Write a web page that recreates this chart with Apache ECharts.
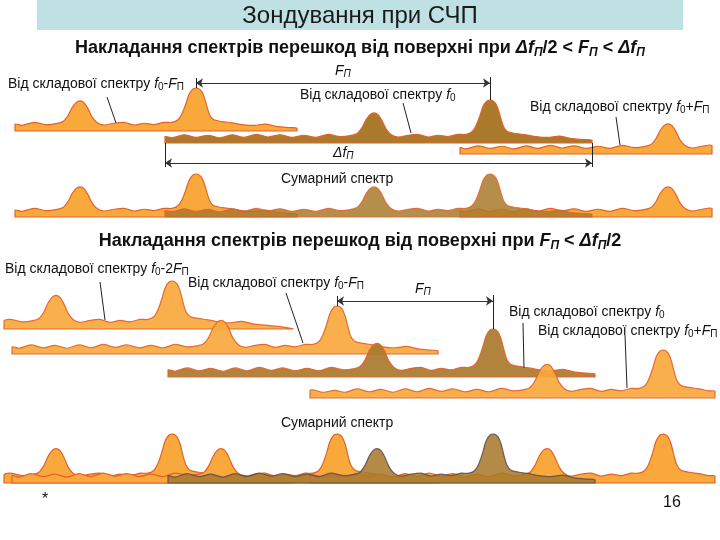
<!DOCTYPE html>
<html><head><meta charset="utf-8">
<script src="https://cdn.jsdelivr.net/npm/echarts@6/dist/echarts.min.js"></script>
<style>html,body{margin:0;padding:0;background:#fff}#c{width:720px;height:540px}</style>
</head><body><div id="c"></div>
<script>
// ---- Spectrum template: frequency offset from main line, relative level ----
const profileFreq  = [-360,-350,-340,-328,-318,-306,-294,-282,-270,-258,-246,-234,-222,-210,-198,-186,-174,-162,-150,-140,-133,-128,-124,-120,-116,-112,-108,-104,-99,-92,-82,-72,-62,-52,-42,-32,-24,-18,-14,-10,-7,-3,1,5,8,11,14,18,26,36,46,58,70,82,94,108,122];
const profileLevel = [0.12,0.17,0.12,0.16,0.12,0.19,0.13,0.18,0.12,0.19,0.13,0.2,0.14,0.19,0.13,0.18,0.13,0.2,0.15,0.17,0.22,0.36,0.54,0.66,0.7,0.66,0.52,0.33,0.2,0.14,0.18,0.2,0.14,0.18,0.15,0.2,0.2,0.26,0.4,0.64,0.85,0.98,1.0,0.94,0.8,0.56,0.36,0.26,0.22,0.19,0.15,0.13,0.16,0.1,0.08,0.05,0];

// ---- Case 1: Δf/2 < F < Δf ----
const topComponents = ['f0-FП', 'f0', 'f0+FП'];
const topPeakFreq   = [196, 490, 784];
const topBandStart  = [-181, -325, -324];
const topBandEnd    = [101, 102, -72];

// ---- Case 2: F < Δf/2 ----
const bottomComponents = ['f0-2FП', 'f0-FП', 'f0', 'f0+FП'];
const bottomPeakFreq   = [172, 337, 493, 663];
const bottomBandStart  = [-168, -325, -325, -353];
const bottomBandEnd    = [121, 101, 102, 52];

const ORANGE = '#F9A83C', EDGE = '#E3622B', BROWN = '#A97A2C', DARK = '#5E4B52';
const FONT = '"Liberation Sans", Arial, sans-serif';

function levelAt(u) {
  if (u <= profileFreq[0]) return profileLevel[0];
  for (let k = 1; k < profileFreq.length; k++) {
    if (u <= profileFreq[k]) {
      const t = (u - profileFreq[k-1]) / (profileFreq[k] - profileFreq[k-1]);
      return profileLevel[k-1] + t * (profileLevel[k] - profileLevel[k-1]);
    }
  }
  return profileLevel[profileFreq.length-1];
}

function spectrum(name, peak, u0, u1, baseline, height, fill, stroke, z, opacity) {
  return {
    type: 'custom', name: name, coordinateSystem: 'cartesian2d', z: z,
    data: [[peak, baseline]], encode: {x: 0, y: 1},
    silent: true, animation: false, clip: false,
    renderItem: function (params, api) {
      const p = api.value(0), b = api.value(1);
      const pts = [];
      pts.push(api.coord([p + u0, b]));
      pts.push(api.coord([p + u0, b - levelAt(u0) * height]));
      for (let k = 0; k < profileFreq.length; k++) {
        const u = profileFreq[k];
        if (u > u0 && u < u1) pts.push(api.coord([p + u, b - profileLevel[k] * height]));
      }
      pts.push(api.coord([p + u1, b - levelAt(u1) * height]));
      pts.push(api.coord([p + u1, b]));
      return {
        type: 'polygon',
        shape: {points: pts, smooth: 0.3, smoothConstraint: [[Infinity, Infinity], [-Infinity, -Infinity]]},
        style: {fill: fill, stroke: stroke, lineWidth: 1.2, opacity: opacity}
      };
    }
  };
}

const series = [];
// Top panel, individual components
const topBase = [131, 143, 154];
for (let i = 0; i < 3; i++) {
  series.push(spectrum(topComponents[i], topPeakFreq[i], topBandStart[i], topBandEnd[i], topBase[i], 43,
    i === 1 ? BROWN : ORANGE, EDGE, 2 + i, 1));
}
// Top panel, sum
[0, 2, 1].forEach(function (i, n) {
  series.push(spectrum('sum ' + topComponents[i], topPeakFreq[i], topBandStart[i], topBandEnd[i], 217, 43,
    i === 1 ? BROWN : ORANGE, EDGE, 10 + n, i === 1 ? 0.85 : 1));
});
// Bottom panel, individual components
const botBase = [329, 354, 377, 398];
for (let i = 0; i < 4; i++) {
  series.push(spectrum(bottomComponents[i], bottomPeakFreq[i], bottomBandStart[i], bottomBandEnd[i], botBase[i], 48,
    i === 2 ? BROWN : ORANGE, EDGE, 20 + i, 0.92));
}
// Bottom panel, sum
[0, 1, 3, 2].forEach(function (i, n) {
  series.push(spectrum('sum ' + bottomComponents[i], bottomPeakFreq[i], bottomBandStart[i], bottomBandEnd[i], 483, 49,
    i === 2 ? BROWN : ORANGE, i === 2 ? DARK : EDGE, 30 + n, i === 2 ? 0.88 : 1));
});

// Dimension arrows and ticks (from component frequencies)
const arrows = [
  {coords: [[topPeakFreq[0], 83], [topPeakFreq[1], 83]]},
  {coords: [[topPeakFreq[1] + topBandStart[1], 163], [topPeakFreq[1] + topBandEnd[1], 163]]},
  {coords: [[bottomPeakFreq[1], 301], [bottomPeakFreq[2], 301]]}
];
const ticks = [
  {coords: [[topPeakFreq[0], 78], [topPeakFreq[0], 88]]},
  {coords: [[topPeakFreq[1], 77], [topPeakFreq[1], 100]]},
  {coords: [[topPeakFreq[1] + topBandStart[1], 143], [topPeakFreq[1] + topBandStart[1], 167]]},
  {coords: [[topPeakFreq[1] + topBandEnd[1], 143], [topPeakFreq[1] + topBandEnd[1], 167]]},
  {coords: [[bottomPeakFreq[1], 296], [bottomPeakFreq[1], 306]]},
  {coords: [[bottomPeakFreq[2], 295], [bottomPeakFreq[2], 329]]},
  // leader lines
  {coords: [[107, 97], [116, 123]]},
  {coords: [[403, 103], [411, 133]]},
  {coords: [[616, 117], [620, 145]]},
  {coords: [[100, 282], [105, 320]]},
  {coords: [[286, 293], [303, 343]]},
  {coords: [[523, 323], [524, 368]]},
  {coords: [[625, 335], [627, 388]]}
];
series.push({
  type: 'lines', coordinateSystem: 'cartesian2d', z: 50, silent: true, animation: false,
  symbol: ['arrow', 'arrow'], symbolSize: 7,
  lineStyle: {color: '#333', width: 1, opacity: 1}, data: arrows
});
series.push({
  type: 'lines', coordinateSystem: 'cartesian2d', z: 50, silent: true, animation: false,
  symbol: 'none', lineStyle: {color: '#222', width: 1, opacity: 1}, data: ticks
});

// ---- Text ----
const rich13 = {
  n: {fontSize: 14, fontFamily: FONT, fill: '#111'},
  i: {fontSize: 14, fontFamily: FONT, fontStyle: 'italic', fill: '#111'},
  s: {fontSize: 10, fontFamily: FONT, fill: '#111', padding: [7, 0, 0, 0]},
  si: {fontSize: 10, fontFamily: FONT, fontStyle: 'italic', fill: '#111', padding: [7, 0, 0, 0]}
};
const richB = {
  n: {fontSize: 18, fontFamily: FONT, fontWeight: 'bold', fill: '#111'},
  i: {fontSize: 18, fontFamily: FONT, fontWeight: 'bold', fontStyle: 'italic', fill: '#111'},
  si: {fontSize: 12, fontFamily: FONT, fontWeight: 'bold', fontStyle: 'italic', fill: '#111', padding: [9, 0, 0, 0]}
};
const pre = '{n|Від складової спектру }';
const lbl = {
  'f0-FП': pre + '{i|f}{s|0}{n|-}{i|F}{s|П}',
  'f0': pre + '{i|f}{s|0}',
  'f0+FП': pre + '{i|f}{s|0}{n|+}{i|F}{s|П}',
  'f0-2FП': pre + '{i|f}{s|0}{n|-2}{i|F}{s|П}'
};
function t(x, y, text, rich, align) {
  return {type: 'text', x: x, y: y, z: 100, silent: true,
    style: {text: text, rich: rich, align: align || 'left', verticalAlign: 'middle'}};
}
const graphics = [
  {type: 'rect', shape: {x: 37, y: 0, width: 646, height: 30}, style: {fill: '#BFE1E4'}, z: 1},
  {type: 'text', x: 360, y: 16, z: 100, style: {text: 'Зондування при СЧП', fontSize: 24, fontFamily: FONT, fill: '#1a1a1a', align: 'center', verticalAlign: 'middle'}},
  t(360, 48, '{n|Накладання спектрів перешкод від поверхні при }{i|Δf}{si|П}{n|/2 < }{i|F}{si|П}{n| < }{i|Δf}{si|П}', richB, 'center'),
  t(360, 241, '{n|Накладання спектрів перешкод від поверхні при }{i|F}{si|П}{n| < }{i|Δf}{si|П}{n|/2}', richB, 'center'),
  t(8, 84, lbl[topComponents[0]], rich13),
  t(335, 71, '{i|F}{si|П}', rich13),
  t(300, 95, lbl[topComponents[1]], rich13),
  t(530, 107, lbl[topComponents[2]], rich13),
  t(333, 153, '{i|Δf}{si|П}', rich13),
  t(281, 179, '{n|Сумарний спектр}', rich13),
  t(5, 269, lbl[bottomComponents[0]], rich13),
  t(188, 283, lbl[bottomComponents[1]], rich13),
  t(415, 289, '{i|F}{si|П}', rich13),
  t(509, 312, lbl[bottomComponents[2]], rich13),
  t(538, 331, lbl[bottomComponents[3]], rich13),
  t(281, 423, '{n|Сумарний спектр}', rich13),
  {type: 'text', x: 42, y: 500, z: 100, style: {text: '*', fontSize: 16, fontFamily: FONT, fill: '#111', verticalAlign: 'middle'}},
  {type: 'text', x: 663, y: 503, z: 100, style: {text: '16', fontSize: 16, fontFamily: FONT, fill: '#111', verticalAlign: 'middle'}}
];

const chart = echarts.init(document.getElementById('c'), null, {renderer: 'canvas'});
chart.setOption({
  animation: false,
  backgroundColor: '#ffffff',
  grid: {left: 0, right: 0, top: 0, bottom: 0},
  xAxis: {type: 'value', min: 0, max: 720, show: false},
  yAxis: {type: 'value', min: 0, max: 540, inverse: true, show: false},
  series: series,
  graphic: graphics
});
</script></body></html>
